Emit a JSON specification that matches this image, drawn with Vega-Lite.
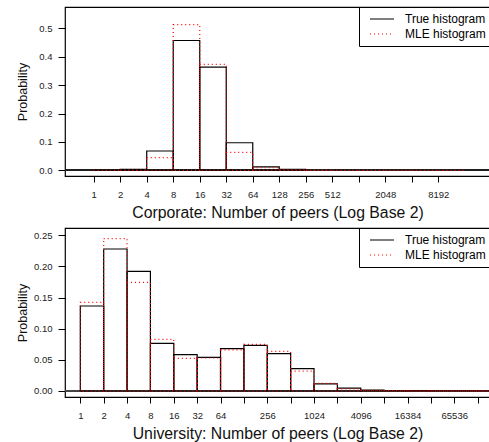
{
  "$schema": "https://vega.github.io/schema/vega-lite/v6.json",
  "padding": {"left": 15, "top": 5, "right": 0, "bottom": 0},
  "spacing": 52,
  "bounds": "flush",
  "config": {
    "view": {"stroke": "black", "strokeWidth": 1.2},
    "font": "Liberation Sans",
    "axis": {
      "grid": false, "domain": false, "tickColor": "black", "tickWidth": 1,
      "labelFont": "Liberation Sans", "labelFontSize": 9.5, "labelColor": "#222",
      "titleFont": "Liberation Sans", "titleFontWeight": "normal", "titleColor": "#111",
      "labelFlush": false, "labelOverlap": false, "labelBound": false
    },
    "legend": {
      "title": null, "orient": "none", "legendX": 294, "legendY": 0,
      "symbolType": "stroke", "symbolSize": 576, "symbolStrokeWidth": 1.2, "symbolOffset": 5,
      "padding": 5, "strokeColor": "black", "labelFontSize": 12, "labelOffset": 10,
      "rowPadding": 1, "clipHeight": 14, "labelColor": "black", "labelFont": "Liberation Sans"
    }
  },
  "datasets": {
    "corp": [
      {"s": "True histogram", "lo": 0, "hi": 1, "p": 0.0002},
      {"s": "True histogram", "lo": 1, "hi": 2, "p": 0.003},
      {"s": "True histogram", "lo": 2, "hi": 3, "p": 0.068},
      {"s": "True histogram", "lo": 3, "hi": 4, "p": 0.457},
      {"s": "True histogram", "lo": 4, "hi": 5, "p": 0.363},
      {"s": "True histogram", "lo": 5, "hi": 6, "p": 0.097},
      {"s": "True histogram", "lo": 6, "hi": 7, "p": 0.012},
      {"s": "True histogram", "lo": 7, "hi": 8, "p": 0.003},
      {"s": "MLE histogram", "lo": 0, "hi": 1, "p": 0.0003},
      {"s": "MLE histogram", "lo": 1, "hi": 2, "p": 0.001},
      {"s": "MLE histogram", "lo": 2, "hi": 3, "p": 0.045},
      {"s": "MLE histogram", "lo": 3, "hi": 4, "p": 0.513},
      {"s": "MLE histogram", "lo": 4, "hi": 5, "p": 0.373},
      {"s": "MLE histogram", "lo": 5, "hi": 6, "p": 0.063},
      {"s": "MLE histogram", "lo": 6, "hi": 7, "p": 0.009},
      {"s": "MLE histogram", "lo": 7, "hi": 8, "p": 0.002},
      {"s": "MLE histogram", "lo": 8, "hi": 9, "p": 0.0005},
      {"s": "MLE histogram", "lo": 9, "hi": 10, "p": 0.0003},
      {"s": "MLE histogram", "lo": 10, "hi": 11, "p": 0.0002},
      {"s": "MLE histogram", "lo": 11, "hi": 12, "p": 0.0002},
      {"s": "MLE histogram", "lo": 12, "hi": 13, "p": 0.0001},
      {"s": "MLE histogram", "lo": 13, "hi": 14, "p": 0.0001}
    ],
    "univ": [
      {"s": "True histogram", "lo": 0, "hi": 1, "p": 0.1365},
      {"s": "True histogram", "lo": 1, "hi": 2, "p": 0.228},
      {"s": "True histogram", "lo": 2, "hi": 3, "p": 0.192},
      {"s": "True histogram", "lo": 3, "hi": 4, "p": 0.0766},
      {"s": "True histogram", "lo": 4, "hi": 5, "p": 0.0585},
      {"s": "True histogram", "lo": 5, "hi": 6, "p": 0.054},
      {"s": "True histogram", "lo": 6, "hi": 7, "p": 0.068},
      {"s": "True histogram", "lo": 7, "hi": 8, "p": 0.0734},
      {"s": "True histogram", "lo": 8, "hi": 9, "p": 0.06},
      {"s": "True histogram", "lo": 9, "hi": 10, "p": 0.0358},
      {"s": "True histogram", "lo": 10, "hi": 11, "p": 0.0115},
      {"s": "True histogram", "lo": 11, "hi": 12, "p": 0.0047},
      {"s": "True histogram", "lo": 12, "hi": 13, "p": 0.0015},
      {"s": "True histogram", "lo": 13, "hi": 14, "p": 0.0008},
      {"s": "True histogram", "lo": 14, "hi": 15, "p": 0.0005},
      {"s": "True histogram", "lo": 15, "hi": 16, "p": 0.0004},
      {"s": "True histogram", "lo": 16, "hi": 17, "p": 0.0003},
      {"s": "True histogram", "lo": 17, "hi": 18, "p": 0.0002},
      {"s": "MLE histogram", "lo": 0, "hi": 1, "p": 0.1424},
      {"s": "MLE histogram", "lo": 1, "hi": 2, "p": 0.2446},
      {"s": "MLE histogram", "lo": 2, "hi": 3, "p": 0.1745},
      {"s": "MLE histogram", "lo": 3, "hi": 4, "p": 0.083},
      {"s": "MLE histogram", "lo": 4, "hi": 5, "p": 0.0525},
      {"s": "MLE histogram", "lo": 5, "hi": 6, "p": 0.053},
      {"s": "MLE histogram", "lo": 6, "hi": 7, "p": 0.066},
      {"s": "MLE histogram", "lo": 7, "hi": 8, "p": 0.075},
      {"s": "MLE histogram", "lo": 8, "hi": 9, "p": 0.0637},
      {"s": "MLE histogram", "lo": 9, "hi": 10, "p": 0.032},
      {"s": "MLE histogram", "lo": 10, "hi": 11, "p": 0.0122},
      {"s": "MLE histogram", "lo": 11, "hi": 12, "p": 0.0035},
      {"s": "MLE histogram", "lo": 12, "hi": 13, "p": 0.001},
      {"s": "MLE histogram", "lo": 13, "hi": 14, "p": 0.0005},
      {"s": "MLE histogram", "lo": 14, "hi": 15, "p": 0.0003},
      {"s": "MLE histogram", "lo": 15, "hi": 16, "p": 0.0002},
      {"s": "MLE histogram", "lo": 16, "hi": 17, "p": 0.0001},
      {"s": "MLE histogram", "lo": 17, "hi": 18, "p": 0.0001}
    ]
  },
  "vconcat": [
    {
      "width": 425,
      "height": 169,
      "data": {"name": "corp"},
      "layer": [
        {
          "mark": {"type": "rule", "color": "#222", "strokeWidth": 1},
          "encoding": {"y": {"datum": 0, "type": "quantitative",
              "scale": {"domain": [-0.02, 0.575], "nice": false, "zero": false},
              "axis": {"values": [0, 0.1, 0.2, 0.3, 0.4, 0.5], "format": ".1f", "tickSize": 7, "labelPadding": 6, "labelOverlap": false,
                "title": "Probability", "titleFontSize": 12.5, "titleX": -36, "titleY": 84.5,
                "titleAngle": -90, "titleBaseline": "bottom", "titleAlign": "center"}}}
        },
        {
          "mark": {"type": "bar", "fill": "transparent", "strokeWidth": 1.2, "clip": true},
          "encoding": {
            "x": {"field": "lo", "type": "quantitative",
              "scale": {"domain": [-1.083, 14.95], "nice": false, "zero": false},
              "axis": {"values": [0,1,2,3,4,5,6,7,8,9,10,11,12,13], "tickSize": 6, "labelPadding": 7, "labelOverlap": false,
                "labelExpr": "indexof([10,12], datum.value) >= 0 ? '' : '' + pow(2, datum.value)",
                "title": "Corporate: Number of peers (Log Base 2)", "titleFontSize": 15.8,
                "titleBaseline": "alphabetic", "titleY": 41}},
            "x2": {"field": "hi"},
            "y": {"field": "p", "type": "quantitative",
              "scale": {"domain": [-0.02, 0.575], "nice": false, "zero": false},
              "axis": {"values": [0, 0.1, 0.2, 0.3, 0.4, 0.5], "format": ".1f", "tickSize": 7, "labelPadding": 6, "labelOverlap": false,
                "title": "Probability", "titleFontSize": 12.5, "titleX": -36, "titleY": 84.5,
                "titleAngle": -90, "titleBaseline": "bottom", "titleAlign": "center"}},
            "y2": {"datum": 0},
            "stroke": {"field": "s", "type": "nominal",
              "scale": {"domain": ["True histogram", "MLE histogram"], "range": ["black", "#ff0000"]},
              "legend": {"title": null, "orient": "none", "legendX": 294, "legendY": 0,
                "encode": {"symbols": {"update": {"stroke": {"signal": "datum.value === 'MLE histogram' ? '#ff0000' : 'black'"}}}}}},
            "strokeDash": {"field": "s", "type": "nominal",
              "scale": {"domain": ["True histogram", "MLE histogram"], "range": [[1, 0], [1, 3]]},
              "legend": {"title": null, "orient": "none", "legendX": 294, "legendY": 0,
                "encode": {"symbols": {"update": {"stroke": {"signal": "datum.value === 'MLE histogram' ? '#ff0000' : 'black'"}}}}}}
          }
        }
      ]
    },
    {
      "width": 425,
      "height": 169,
      "data": {"name": "univ"},
      "layer": [
        {
          "mark": {"type": "rule", "color": "#444", "strokeWidth": 1},
          "encoding": {"y": {"datum": 0, "type": "quantitative",
              "scale": {"domain": [-0.00964, 0.2617], "nice": false, "zero": false},
              "axis": {"values": [0, 0.05, 0.1, 0.15, 0.2, 0.25], "format": ".2f", "tickSize": 7, "labelPadding": 6, "labelOverlap": false,
                "title": "Probability", "titleFontSize": 12.5, "titleX": -36, "titleY": 84.5,
                "titleAngle": -90, "titleBaseline": "bottom", "titleAlign": "center"}}}
        },
        {
          "mark": {"type": "bar", "fill": "transparent", "strokeWidth": 1.2, "clip": true},
          "encoding": {
            "x": {"field": "lo", "type": "quantitative",
              "scale": {"domain": [-0.655, 17.53], "nice": false, "zero": false},
              "axis": {"values": [0,1,2,3,4,5,6,7,8,9,10,11,12,13,14,15,16,17], "tickSize": 6, "labelPadding": 7, "labelOverlap": false,
                "labelExpr": "(datum.value <= 6 || datum.value % 2 == 0) ? '' + pow(2, datum.value) : ''",
                "title": "University: Number of peers (Log Base 2)", "titleFontSize": 15.8,
                "titleBaseline": "alphabetic", "titleY": 41}},
            "x2": {"field": "hi"},
            "y": {"field": "p", "type": "quantitative",
              "scale": {"domain": [-0.00964, 0.2617], "nice": false, "zero": false},
              "axis": {"values": [0, 0.05, 0.1, 0.15, 0.2, 0.25], "format": ".2f", "tickSize": 7, "labelPadding": 6, "labelOverlap": false,
                "title": "Probability", "titleFontSize": 12.5, "titleX": -36, "titleY": 84.5,
                "titleAngle": -90, "titleBaseline": "bottom", "titleAlign": "center"}},
            "y2": {"datum": 0},
            "stroke": {"field": "s", "type": "nominal",
              "scale": {"domain": ["True histogram", "MLE histogram"], "range": ["black", "#ff0000"]},
              "legend": {"title": null, "orient": "none", "legendX": 294, "legendY": 0,
                "encode": {"symbols": {"update": {"stroke": {"signal": "datum.value === 'MLE histogram' ? '#ff0000' : 'black'"}}}}}},
            "strokeDash": {"field": "s", "type": "nominal",
              "scale": {"domain": ["True histogram", "MLE histogram"], "range": [[1, 0], [1, 3]]},
              "legend": {"title": null, "orient": "none", "legendX": 294, "legendY": 0,
                "encode": {"symbols": {"update": {"stroke": {"signal": "datum.value === 'MLE histogram' ? '#ff0000' : 'black'"}}}}}}
          }
        }
      ]
    }
  ],
  "resolve": {"scale": {"stroke": "independent", "strokeDash": "independent"}}
}
